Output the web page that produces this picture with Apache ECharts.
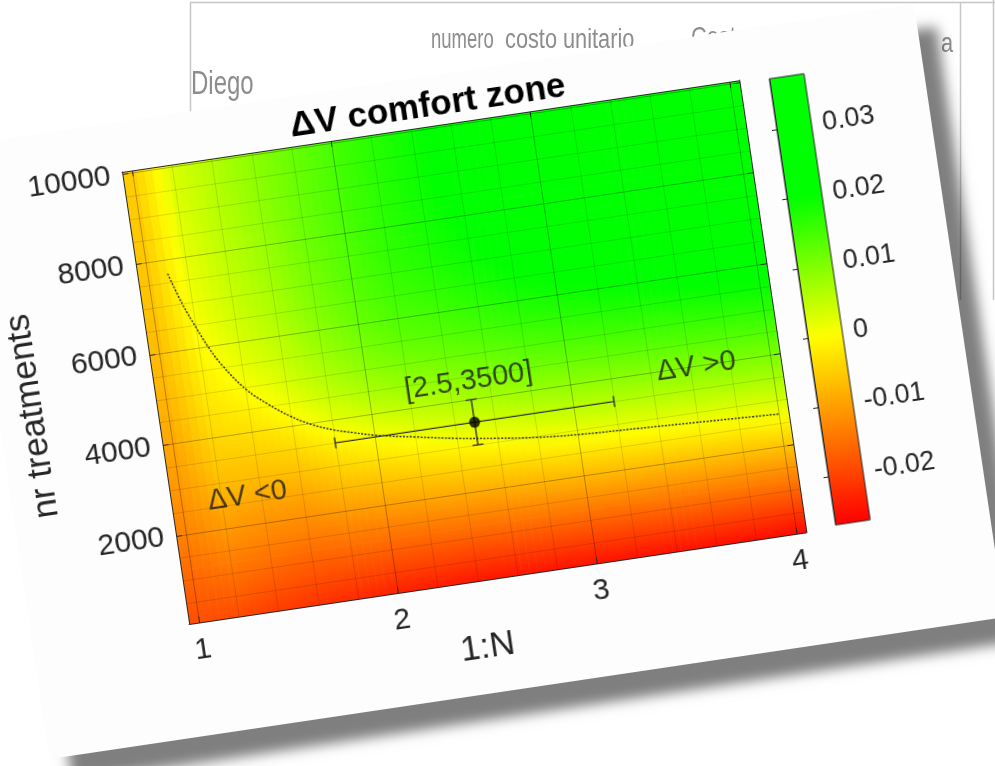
<!DOCTYPE html>
<html>
<head>
<meta charset="utf-8">
<script src="https://cdn.jsdelivr.net/npm/echarts@6/dist/echarts.min.js"></script>
<style>
  html, body { margin: 0; padding: 0; background: #fff; overflow: hidden; }
  #sheet { position: absolute; left: 0; top: 0; width: 995px; height: 766px; }
  #card {
    position: absolute; left: -118px; top: 92px; width: 1100px; height: 700px;
    transform-origin: 240px 80px; transform: rotate(-8.45deg);
  }
</style>
</head>
<body>
<div id="sheet"></div>
<div id="card"></div>
<script>
// values
const xVals = [1.0, 1.2, 1.4, 1.6, 1.8, 2.0, 2.2, 2.4, 2.6, 2.8, 3.0, 3.2, 3.4, 3.6, 3.8, 4.0];
const yVals = [0, 500, 1000, 1500, 2000, 2500, 3000, 3500, 4000, 4500, 5000,
               5500, 6000, 6500, 7000, 7500, 8000, 8500, 9000, 9500, 10000];

// one line per x column, dV from y = 0 (bottom) up to y = 10000
const dvCols = [
  [-0.019,-0.0176,-0.0162,-0.0147,-0.0132,-0.0121,-0.011,-0.0101,-0.0093,-0.0086,-0.008,-0.0075,-0.0071,-0.0068,-0.0065,-0.0062,-0.006,-0.0058,-0.0056,-0.0055,-0.0054],
  [-0.0195,-0.0172,-0.015,-0.0128,-0.0107,-0.0088,-0.0071,-0.0056,-0.0043,-0.0032,-0.0022,-0.0013,-0.0005,0.0003,0.0009,0.0014,0.0018,0.0022,0.0025,0.0028,0.003],
  [-0.021,-0.0185,-0.016,-0.0137,-0.0115,-0.0093,-0.0072,-0.0052,-0.0033,-0.0015,0.0003,0.0017,0.0028,0.0037,0.0043,0.0048,0.0052,0.0055,0.0057,0.0059,0.006],
  [-0.022,-0.0194,-0.0168,-0.0142,-0.0117,-0.0092,-0.0066,-0.0041,-0.0013,0.0012,0.003,0.0044,0.0055,0.0064,0.0071,0.0077,0.0081,0.0085,0.0087,0.0089,0.009],
  [-0.023,-0.0199,-0.0168,-0.0137,-0.0106,-0.0075,-0.0044,-0.0013,0.0018,0.0043,0.0063,0.0078,0.009,0.0099,0.0106,0.0111,0.0115,0.0117,0.0118,0.0119,0.012],
  [-0.024,-0.0205,-0.017,-0.0136,-0.0101,-0.0066,-0.0031,0.0004,0.0038,0.0066,0.0088,0.0105,0.0118,0.0127,0.0134,0.0138,0.0141,0.0143,0.0144,0.0145,0.0145],
  [-0.0245,-0.0207,-0.017,-0.0132,-0.0094,-0.0057,-0.0019,0.0018,0.0052,0.0081,0.0105,0.0124,0.0139,0.015,0.0158,0.0163,0.0166,0.0168,0.0169,0.017,0.017],
  [-0.025,-0.021,-0.0169,-0.0129,-0.0089,-0.0048,-0.0008,0.0029,0.0062,0.009,0.0114,0.0134,0.015,0.0163,0.0173,0.018,0.0185,0.0188,0.019,0.0191,0.0192],
  [-0.0252,-0.021,-0.0168,-0.0126,-0.0084,-0.0042,0,0.0037,0.007,0.0099,0.0124,0.0146,0.0164,0.0179,0.0191,0.02,0.0207,0.0212,0.0216,0.0218,0.022],
  [-0.0254,-0.021,-0.0166,-0.0122,-0.0078,-0.0034,0.001,0.0047,0.008,0.011,0.0136,0.0159,0.0179,0.0196,0.021,0.0222,0.0232,0.024,0.0245,0.0248,0.025],
  [-0.0255,-0.021,-0.0165,-0.0119,-0.0074,-0.0029,0.0016,0.0053,0.0086,0.0116,0.0143,0.0167,0.0188,0.0207,0.0223,0.0237,0.0249,0.0258,0.0264,0.0268,0.027],
  [-0.0256,-0.021,-0.0164,-0.0117,-0.0071,-0.0025,0.0021,0.0058,0.0091,0.0121,0.0149,0.0174,0.0196,0.0216,0.0234,0.025,0.0263,0.0274,0.0282,0.0287,0.029],
  [-0.0257,-0.021,-0.0163,-0.0116,-0.0069,-0.0022,0.0024,0.0061,0.0095,0.0126,0.0154,0.018,0.0203,0.0224,0.0243,0.026,0.0275,0.0288,0.0298,0.0305,0.031],
  [-0.0258,-0.021,-0.0162,-0.0114,-0.0066,-0.0018,0.0027,0.0064,0.0098,0.013,0.0159,0.0186,0.021,0.0232,0.0252,0.027,0.0287,0.0302,0.0314,0.0323,0.033],
  [-0.026,-0.0211,-0.0162,-0.0113,-0.0064,-0.0015,0.003,0.0067,0.0101,0.0133,0.0163,0.0191,0.0216,0.0239,0.026,0.0279,0.0297,0.0313,0.0327,0.0339,0.035],
  [-0.0265,-0.0214,-0.0163,-0.0112,-0.0061,-0.001,0.0033,0.007,0.0104,0.0136,0.0166,0.0194,0.022,0.0244,0.0266,0.0286,0.0305,0.0322,0.0337,0.035,0.036]
];

// dotted dV = 0 line
const curveX = [1.10, 1.15, 1.20, 1.25, 1.30, 1.40, 1.50, 1.60, 1.70, 1.80, 1.90, 2.00, 2.20, 2.40, 2.60, 2.80, 3.00, 3.30, 3.60, 4.00];
const curveY = [7700, 7000, 6450, 5950, 5550, 4950, 4550, 4220, 3970, 3790, 3660, 3540, 3370, 3210, 3080, 2970, 2900, 2840, 2780, 2700];

// the marked point and its error bars
const pointXY = [2.5, 3500];
const pointErr = [0.7, 500];

// text inside the plot
const noteText = ['[2.5,3500]', 'ΔV >0', 'ΔV <0'];
const noteX = [2.5, 3.63, 1.33];
const noteY = [4400, 3990, 2640];

// axes
const xRange = [0.95, 4.05];
const yRange = [50, 10050];
const xTicks = [1, 2, 3, 4];
const yTicks = [2000, 4000, 6000, 8000, 10000];
const xMinor = [1.0, 1.2, 1.4, 1.6, 1.8, 2.0, 2.2, 2.4, 2.6, 2.8, 3.0, 3.2, 3.4, 3.6, 3.8, 4.0];
const yMinor = [500, 1000, 1500, 2000, 2500, 3000, 3500, 4000, 4500, 5000,
                5500, 6000, 6500, 7000, 7500, 8000, 8500, 9000, 9500, 10000];
const cbarRange = [-0.0269, 0.0373];
const cbarTicks = [-0.02, -0.01, 0, 0.01, 0.02, 0.03];

const FONT = "'Liberation Sans', Arial, Helvetica, sans-serif";
const NARROW = "'Liberation Sans Narrow', 'Liberation Sans', sans-serif";
const INK = '#262626';

// red -> yellow -> green colormap, green saturates
const cmapStops = [
  [-0.027, [255, 0, 0]],
  [0, [255, 255, 0]],
  [0.02, [0, 255, 0]]
];
function cmap(v) {
  let c = cmapStops[cmapStops.length - 1][1];
  if (v <= cmapStops[0][0]) c = cmapStops[0][1];
  else {
    for (let k = 1; k < cmapStops.length; k++) {
      if (v <= cmapStops[k][0]) {
        const a = cmapStops[k - 1], b = cmapStops[k];
        const t = (v - a[0]) / (b[0] - a[0]);
        c = a[1].map((q, n) => Math.round(q + (b[1][n] - q) * t));
        break;
      }
    }
  }
  return 'rgb(' + c.join(',') + ')';
}
const cbarColors = [];
for (let k = 0; k <= 64; k++) {
  cbarColors.push(cmap(cbarRange[0] + (cbarRange[1] - cbarRange[0]) * k / 64));
}

// shading between the read values (like shading interp)
function locate(arr, v) {
  const last = arr.length - 1;
  if (v <= arr[0]) return [0, 0];
  if (v >= arr[last]) return [last - 1, 1];
  let i = 0;
  while (arr[i + 1] < v) i++;
  return [i, (v - arr[i]) / (arr[i + 1] - arr[i])];
}
function field(x, y) {
  const [i, tx] = locate(xVals, x);
  const [j, ty] = locate(yVals, y);
  const i1 = Math.min(i + 1, xVals.length - 1), j1 = Math.min(j + 1, yVals.length - 1);
  const lo = dvCols[i][j] * (1 - tx) + dvCols[i1][j] * tx;
  const hi = dvCols[i][j1] * (1 - tx) + dvCols[i1][j1] * tx;
  return lo * (1 - ty) + hi * ty;
}

const heatData = [];
xVals.forEach((x, i) => {
  yVals.forEach((y, j) => heatData.push([x, y, dvCols[i][j]]));
});

const xStep = xVals[1] - xVals[0];
const yStep = yVals[1] - yVals[0];

function renderCell(params, api) {
  const x = api.value(0), y = api.value(1);
  const cs = params.coordSys;
  const box = { x: cs.x, y: cs.y, width: cs.width, height: cs.height };
  const yTop = y + yStep / 2, yBot = y - yStep / 2;
  const pTop = api.coord([x, yTop]), pBot = api.coord([x, yBot]);
  const nSub = 5;
  const children = [];
  for (let k = 0; k < nSub; k++) {
    const xa = x - xStep / 2 + k * xStep / nSub;
    const xb = xa + xStep / nSub;
    const p0 = api.coord([xa, yTop]), p1 = api.coord([xb, yBot]);
    const rect = echarts.graphic.clipRectByRect(
      { x: p0[0], y: p0[1], width: p1[0] - p0[0] + 0.6, height: p1[1] - p0[1] + 0.6 }, box);
    if (!rect) continue;
    const xm = (xa + xb) / 2;
    const fill = new echarts.graphic.LinearGradient(0, pTop[1], 0, pBot[1], [
      { offset: 0, color: cmap(field(xm, yTop)) },
      { offset: 0.5, color: cmap(field(xm, y)) },
      { offset: 1, color: cmap(field(xm, yBot)) }
    ], true);
    children.push({ type: 'rect', shape: rect, style: { fill: fill } });
  }
  return { type: 'group', children: children };
}

function renderErr(params, api) {
  const x = api.value(0), y = api.value(1), ex = api.value(2), ey = api.value(3);
  const l = api.coord([x - ex, y]), r = api.coord([x + ex, y]);
  const t = api.coord([x, y + ey]), b = api.coord([x, y - ey]);
  const cap = 5.5;
  const st = { stroke: '#333', lineWidth: 1.4 };
  const seg = (x1, y1, x2, y2) => ({ type: 'line', shape: { x1, y1, x2, y2 }, style: st });
  return {
    type: 'group',
    children: [
      seg(l[0], l[1], r[0], r[1]),
      seg(l[0], l[1] - cap, l[0], l[1] + cap),
      seg(r[0], r[1] - cap, r[0], r[1] + cap),
      seg(t[0], t[1], b[0], b[1]),
      seg(t[0] - cap, t[1], t[0] + cap, t[1]),
      seg(b[0] - cap, b[1], b[0] + cap, b[1])
    ]
  };
}

// ---------- spreadsheet behind the picture ----------
const sheet = echarts.init(document.getElementById('sheet'));
const sheetLine = { stroke: '#c6c6c6', lineWidth: 1.5 };
const sheetText = (text, x, y, size, sx) => ({
  type: 'text', x: x, y: y, scaleX: sx, scaleY: 1.1,
  style: { text: text, fontFamily: NARROW, fontSize: size, fill: '#8d8d8d', verticalAlign: 'middle' }
});
sheet.setOption({
  animation: false,
  graphic: [
    { type: 'line', shape: { x1: 190, y1: 2.5, x2: 995, y2: 2.5 }, style: sheetLine },
    { type: 'line', shape: { x1: 190.5, y1: 2, x2: 190.5, y2: 300 }, style: sheetLine },
    { type: 'line', shape: { x1: 960.5, y1: 2, x2: 960.5, y2: 300 }, style: sheetLine },
    { type: 'line', shape: { x1: 993.5, y1: 0, x2: 993.5, y2: 300 }, style: sheetLine },
    { type: 'line', shape: { x1: 960, y1: 322, x2: 960, y2: 352 }, style: { stroke: '#222', lineWidth: 2 } },
    sheetText('numero', 431, 40, 25, 0.74),
    sheetText('costo unitario', 505, 40, 25, 0.87),
    sheetText('Costo totale', 691, 38, 25, 0.87),
    sheetText('a', 941, 44, 25, 0.87),
    sheetText('Diego', 191, 85, 30, 0.8)
  ]
});

// ---------- the tilted figure ----------
const PL = 240, PT = 80, PW = 624, PH = 457;
const CBL = PL + 654, CBT = PT + 3, CBW = 35, CBH = 451;

const chart = echarts.init(document.getElementById('card'));
const tickLabel = { fontSize: 30, color: INK, fontFamily: FONT };
const cbarLabel = { fontSize: 27, color: INK, fontFamily: FONT };
const nameStyle = { fontSize: 35, color: INK, fontFamily: FONT };
const axisLine = { show: true, lineStyle: { color: INK, width: 1 } };

const option = {
  animation: false,
  backgroundColor: 'transparent',
  title: {
    text: 'ΔV comfort zone',
    left: PL + PW / 2, top: PT - 37, textAlign: 'center', padding: 0,
    textStyle: { fontSize: 35, fontWeight: 'bold', color: '#000', fontFamily: FONT }
  },
  graphic: [
    {
      type: 'rect', z: -10,
      shape: { x: 82, y: 30, width: 966, height: 620 },
      style: { fill: '#fdfdfd', shadowBlur: 12, shadowOffsetX: 19, shadowOffsetY: 26, shadowColor: 'rgba(0,0,0,0.5)' }
    },
    {
      type: 'rect', z: 100,
      shape: { x: CBL, y: CBT, width: CBW, height: CBH },
      style: { fill: 'none', stroke: INK, lineWidth: 1 }
    }
  ],
  grid: [
    { left: PL, top: PT, width: PW, height: PH },
    { left: CBL, top: CBT, width: CBW, height: CBH }
  ],
  visualMap: {
    type: 'continuous', seriesIndex: 0, dimension: 2,
    min: cbarRange[0], max: cbarRange[1],
    inRange: { color: cbarColors },
    calculable: false, hoverLink: false, orient: 'vertical',
    left: CBL, top: CBT, itemWidth: CBW, itemHeight: CBH, padding: 0
  },
  xAxis: [
    {
      type: 'value', gridIndex: 0, min: xRange[0], max: xRange[1], position: 'bottom', z: 3,
      axisLine: axisLine,
      axisTick: { inside: true, length: 6, customValues: xTicks, lineStyle: { color: INK } },
      axisLabel: Object.assign({ customValues: xTicks, margin: 13 }, tickLabel),
      splitLine: { show: true, lineStyle: { color: 'rgba(0,0,0,0.18)', width: 1 } },
      name: '1:N', nameLocation: 'middle', nameGap: 50,
      nameTextStyle: Object.assign({ padding: [0, 40, 0, 0] }, nameStyle)
    },
    {
      type: 'value', gridIndex: 0, min: xRange[0], max: xRange[1], z: 3,
      axisLine: { show: false },
      axisTick: { show: false, customValues: xMinor },
      axisLabel: { show: false },
      splitLine: { show: true, lineStyle: { color: 'rgba(0,0,0,0.12)', width: 1 } }
    },
    {
      type: 'value', gridIndex: 0, min: xRange[0], max: xRange[1], position: 'top', z: 3,
      axisLine: axisLine,
      axisTick: { inside: true, length: 6, customValues: xTicks, lineStyle: { color: INK } },
      axisLabel: { show: false },
      splitLine: { show: false }
    },
    { type: 'value', gridIndex: 1, min: 0, max: 1, show: false }
  ],
  yAxis: [
    {
      type: 'value', gridIndex: 0, min: yRange[0], max: yRange[1], position: 'left', z: 3,
      axisLine: axisLine,
      axisTick: { inside: true, length: 6, customValues: yTicks, lineStyle: { color: INK } },
      axisLabel: Object.assign({ customValues: yTicks, margin: 12, formatter: v => String(v) }, tickLabel),
      splitLine: { show: true, lineStyle: { color: 'rgba(0,0,0,0.18)', width: 1 } },
      name: 'nr treatments', nameLocation: 'middle', nameGap: 98, nameRotate: 90,
      nameTextStyle: nameStyle
    },
    {
      type: 'value', gridIndex: 0, min: yRange[0], max: yRange[1], z: 3,
      axisLine: { show: false },
      axisTick: { show: false, customValues: yMinor },
      axisLabel: { show: false },
      splitLine: { show: true, lineStyle: { color: 'rgba(0,0,0,0.12)', width: 1 } }
    },
    {
      type: 'value', gridIndex: 0, min: yRange[0], max: yRange[1], position: 'right', z: 3,
      axisLine: axisLine,
      axisTick: { inside: true, length: 6, customValues: yTicks, lineStyle: { color: INK } },
      axisLabel: { show: false },
      splitLine: { show: false }
    },
    {
      type: 'value', gridIndex: 1, min: cbarRange[0], max: cbarRange[1], position: 'right', z: 5,
      axisLine: axisLine,
      axisTick: { inside: true, length: 5, customValues: cbarTicks, lineStyle: { color: INK } },
      axisLabel: Object.assign({
        customValues: cbarTicks, margin: 11,
        formatter: v => String(+v.toFixed(3))
      }, cbarLabel),
      splitLine: { show: false }
    }
  ],
  series: [
    {
      type: 'custom', name: 'dV', xAxisIndex: 0, yAxisIndex: 0, z: 1, silent: true,
      renderItem: renderCell, data: heatData
    },
    {
      type: 'line', xAxisIndex: 0, yAxisIndex: 0, z: 5, silent: true,
      showSymbol: false, smooth: 0.4,
      lineStyle: { color: '#222', width: 1.4, type: [2, 1.5] },
      data: curveX.map((x, k) => [x, curveY[k]])
    },
    {
      type: 'custom', xAxisIndex: 0, yAxisIndex: 0, z: 5, silent: true,
      renderItem: renderErr,
      data: [[pointXY[0], pointXY[1], pointErr[0], pointErr[1]]]
    },
    {
      type: 'scatter', xAxisIndex: 0, yAxisIndex: 0, z: 6, silent: true,
      symbol: 'circle', symbolSize: 11, itemStyle: { color: '#000' },
      data: [pointXY]
    },
    {
      type: 'scatter', xAxisIndex: 0, yAxisIndex: 0, z: 6, silent: true,
      symbolSize: 1, itemStyle: { color: 'rgba(0,0,0,0)' },
      label: {
        show: true, position: 'inside', formatter: p => p.value[2],
        fontSize: 29, color: '#1a1a1a', fontFamily: FONT
      },
      data: noteText.map((t, k) => [noteX[k], noteY[k], t])
    }
  ]
};
chart.setOption(option);
</script>
</body>
</html>
